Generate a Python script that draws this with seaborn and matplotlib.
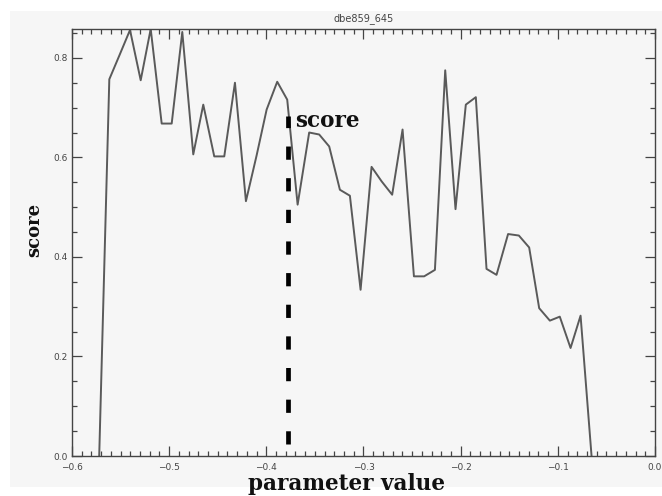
import matplotlib
matplotlib.use("Agg")
import matplotlib.pyplot as plt
from matplotlib.patches import Rectangle
from matplotlib.ticker import MultipleLocator
import pandas as pd
import seaborn as sns

# parameter sweep and resulting score
param = [-0.572, -0.5616, -0.551, -0.5403, -0.5293, -0.519, -0.5077, -0.4974,
         -0.4865, -0.4752, -0.4649, -0.4536, -0.4433, -0.4323, -0.421, -0.410,
         -0.3997, -0.3888, -0.3785, -0.3678, -0.3559, -0.3456, -0.3353, -0.3243,
         -0.314, -0.303, -0.2917, -0.2814, -0.2705, -0.2598, -0.2481, -0.2376,
         -0.2265, -0.2159, -0.2053, -0.1947, -0.1844, -0.1734, -0.1631, -0.1512,
         -0.1401, -0.1295, -0.1192, -0.1082, -0.098, -0.0869, -0.0766, -0.0653]
score = [0.0, 0.757, 0.806, 0.856, 0.755, 0.858, 0.668, 0.668,
         0.852, 0.606, 0.706, 0.602, 0.602, 0.750, 0.512, 0.604,
         0.696, 0.752, 0.716, 0.505, 0.650, 0.646, 0.622, 0.535,
         0.523, 0.334, 0.581, 0.552, 0.525, 0.656, 0.361, 0.361,
         0.374, 0.775, 0.496, 0.706, 0.721, 0.376, 0.364, 0.446,
         0.443, 0.419, 0.297, 0.272, 0.280, 0.217, 0.282, 0.0]

marker_x = -0.378
marker_top = 0.683
marker_label = "score"
title = "dbe859_645"
x_label = "parameter value"
y_label = "score"

sns.set_style("ticks")
plt.rcParams["font.family"] = ["DejaVu Sans"]

df = pd.DataFrame({"param": param, "score": score})

fig = plt.figure(figsize=(6.62, 4.96), dpi=100, facecolor="white")
fig.patches.append(Rectangle((10 / 662, 9 / 496), 652 / 662, 476 / 496,
                             transform=fig.transFigure, facecolor="#f6f6f6",
                             edgecolor="none", zorder=-10))
ax = fig.add_axes([72 / 662, 40 / 496, 583 / 662, 427 / 496])
ax.set_facecolor("#f6f6f6")

sns.lineplot(data=df, x="param", y="score", ax=ax, estimator=None, sort=False,
             color="#5a5a5a", linewidth=1.4)

# dashed marker at the chosen parameter value
ax.plot([marker_x, marker_x], [0.025, marker_top], color="black",
        linewidth=3.4, linestyle=(0, (2.8, 3.9)), solid_capstyle="butt",
        dash_capstyle="butt")
ax.text(marker_x + 0.0075, marker_top - 0.01, marker_label, fontsize=15.5,
        fontweight="bold", family="DejaVu Serif", color="#111111",
        va="center", ha="left")

ax.set_xlim(-0.6, 0.0)
ax.set_ylim(0.0, 0.858)
ax.xaxis.set_major_locator(MultipleLocator(0.1))
ax.xaxis.set_minor_locator(MultipleLocator(0.01))
ax.yaxis.set_major_locator(MultipleLocator(0.2))
ax.yaxis.set_minor_locator(MultipleLocator(0.05))
ax.tick_params(which="both", direction="in", top=True, right=True,
               color="#444444", width=0.9)
ax.tick_params(which="major", length=7, labelsize=6.5, labelcolor="#444444")
ax.tick_params(which="minor", length=3.5)
ax.tick_params(axis="x", which="major", pad=5)
ax.tick_params(axis="y", which="major", pad=3)
ax.set_xticklabels([f"{v:.1f}".replace("-", "\u2212") for v in ax.get_xticks()])
ax.set_yticklabels([f"{v:.1f}" for v in ax.get_yticks()])
for s in ax.spines.values():
    s.set_color("#444444")
    s.set_linewidth(1.0)

ax.set_title(title, fontsize=7, color="#444444", pad=6)
ax.set_xlabel(x_label, fontsize=15.5, fontweight="bold", family="DejaVu Serif",
              color="#111111", labelpad=0)
ax.set_ylabel(y_label, fontsize=13, fontweight="bold", family="DejaVu Serif",
              color="#111111", labelpad=10)
ax.yaxis.set_label_coords(-0.05, 0.53)
ax.xaxis.set_label_coords(0.47, -0.04)

fig.savefig("out.png", dpi=100, facecolor=fig.get_facecolor())
